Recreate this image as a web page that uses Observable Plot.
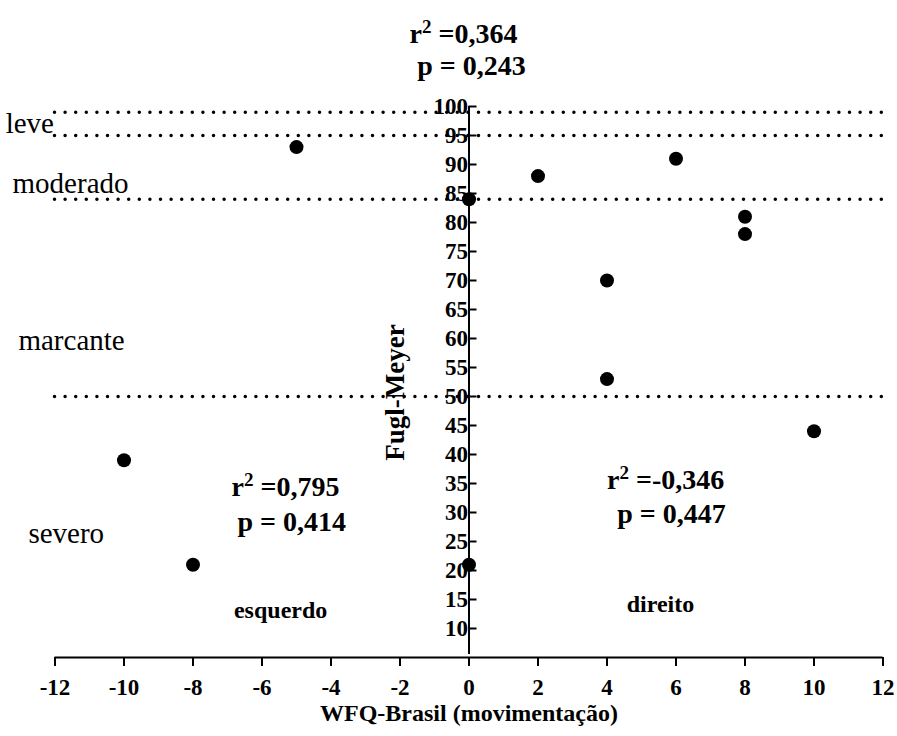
<!DOCTYPE html>
<html>
<head>
<meta charset="utf-8">
<script src="https://cdn.jsdelivr.net/npm/d3@7"></script>
<script src="https://cdn.jsdelivr.net/npm/@observablehq/plot@0.6"></script>
<style>
  html, body { margin: 0; padding: 0; background: #fff; }
  #chart { width: 897px; height: 736px; }
  #chart svg text { font-family: 'Liberation Serif', 'Times New Roman', serif; }
</style>
</head>
<body>
<div id="chart"></div>
<script>
// ---- data ----
const wfq = [-10, -8, -5, 0, 0, 2, 4, 4, 6, 8, 8, 10];
const fuglMeyer = [39, 21, 93, 84, 21, 88, 70, 53, 91, 81, 78, 44];

const xTicks = [-12, -10, -8, -6, -4, -2, 0, 2, 4, 6, 8, 10, 12];
const yTicks = [10, 15, 20, 25, 30, 35, 40, 45, 50, 55, 60, 65, 70, 75, 80, 85, 90, 95, 100];

const levelCuts = [99, 95, 84, 50];
const levelNames = ["leve", "moderado", "marcante", "severo"];
const levelNameX = [-13.43, -13.23, -13.06, -12.77];
const levelNameY = [97.1, 86.7, 59.7, 26.4];

const statTexts = ["r² =0,364", "p = 0,243", "r² =0,795", "p = 0,414", "r² =-0,346", "p = 0,447"];
const statX = [-0.16, 0.07, -5.32, -5.14, 5.70, 5.87];
const statY = [112.5, 107.0, 34.4, 28.4, 35.6, 29.8];

const sideNames = ["esquerdo", "direito"];
const sideX = [-5.46, 5.55];
const sideY = [13.2, 14.1];

const xLabel = "WFQ-Brasil (movimentação)";
const yLabel = "Fugl-Meyer";

// ---- layout ----
const W = 897, H = 736;
const mL = 54.5, mR = 14.5, mT = 106, mB = 79;
const serif = "'Liberation Serif', 'Times New Roman', serif";

const points = wfq.map((x, i) => ({x, y: fuglMeyer[i]}));
const levels = levelNames.map((name, i) => ({name, x: levelNameX[i], y: levelNameY[i]}));
const stats = statTexts.map((t, i) => ({t, x: statX[i], y: statY[i]}));
const sides = sideNames.map((t, i) => ({t, x: sideX[i], y: sideY[i]}));

const chart = Plot.plot({
  width: W, height: H,
  marginLeft: mL, marginRight: mR, marginTop: mT, marginBottom: mB,
  style: {fontFamily: serif, background: "#fff", color: "#000"},
  x: {domain: [-12, 12]},
  y: {domain: [5, 100]},
  marks: [
    // dotted level lines
    Plot.ruleY(levelCuts, {x1: -12, x2: 12, stroke: "#000", strokeWidth: 3.5, strokeLinecap: "round", strokeDasharray: "0 10.6"}),
    // x axis line
    Plot.ruleY([5], {x1: -12, x2: 12, stroke: "#000", strokeWidth: 2}),
    Plot.axisX({anchor: "bottom", ticks: xTicks, tickSize: 9, tickPadding: 12, fontSize: 23, fontWeight: "bold",
      fontFamily: serif, tickFormat: d => String(d), label: null, strokeWidth: 2}),
    // y axis at x = 0
    Plot.ruleX([0], {y1: 5, y2: 100, insetTop: -3, stroke: "#000", strokeWidth: 2}),
    Plot.ruleY(yTicks, {x1: 0, x2: 0, insetRight: -8, stroke: "#000", strokeWidth: 2}),
    Plot.axisY({anchor: "left", ticks: yTicks, tickSize: 0, tickPadding: 1, dx: (W - mL - mR) / 2,
      fontSize: 23, fontWeight: "bold", fontFamily: serif, tickFormat: d => String(d), label: null}),
    // axis titles
    Plot.text([xLabel], {frameAnchor: "bottom", dy: 63, fontSize: 24, fontWeight: "bold", fontFamily: serif, fill: "#000"}),
    Plot.text([yLabel], {x: -2.13, y: 50.7, rotate: -90, fontSize: 27, fontWeight: "bold", fontFamily: serif, fill: "#000"}),
    // level names
    Plot.text(levels, {x: "x", y: "y", text: "name", textAnchor: "start", fontSize: 29, fontFamily: serif, fill: "#000"}),
    // statistics
    Plot.text(stats, {x: "x", y: "y", text: "t", fontSize: 28, fontWeight: "bold", fontFamily: serif, fill: "#000"}),
    Plot.text(sides, {x: "x", y: "y", text: "t", fontSize: 24, fontWeight: "bold", fontFamily: serif, fill: "#000"}),
    // data points
    Plot.dot(points, {x: "x", y: "y", r: 7, fill: "#000", stroke: "none"})
  ]
});

// render "²" as a proper raised superscript
chart.querySelectorAll("text").forEach(t => {
  const s = t.textContent;
  if (s.startsWith("r²")) {
    while (t.firstChild) t.removeChild(t.firstChild);
    const ns = "http://www.w3.org/2000/svg";
    const a = document.createElementNS(ns, "tspan"); a.textContent = "r";
    const b = document.createElementNS(ns, "tspan"); b.textContent = "2";
    b.setAttribute("dy", "-0.5em"); b.setAttribute("font-size", "0.68em");
    const c = document.createElementNS(ns, "tspan"); c.textContent = "\u00a0" + s.slice(2).trim();
    c.setAttribute("dy", "0.34em");
    t.appendChild(a); t.appendChild(b); t.appendChild(c);
  }
});
document.getElementById("chart").appendChild(chart);
</script>
</body>
</html>
